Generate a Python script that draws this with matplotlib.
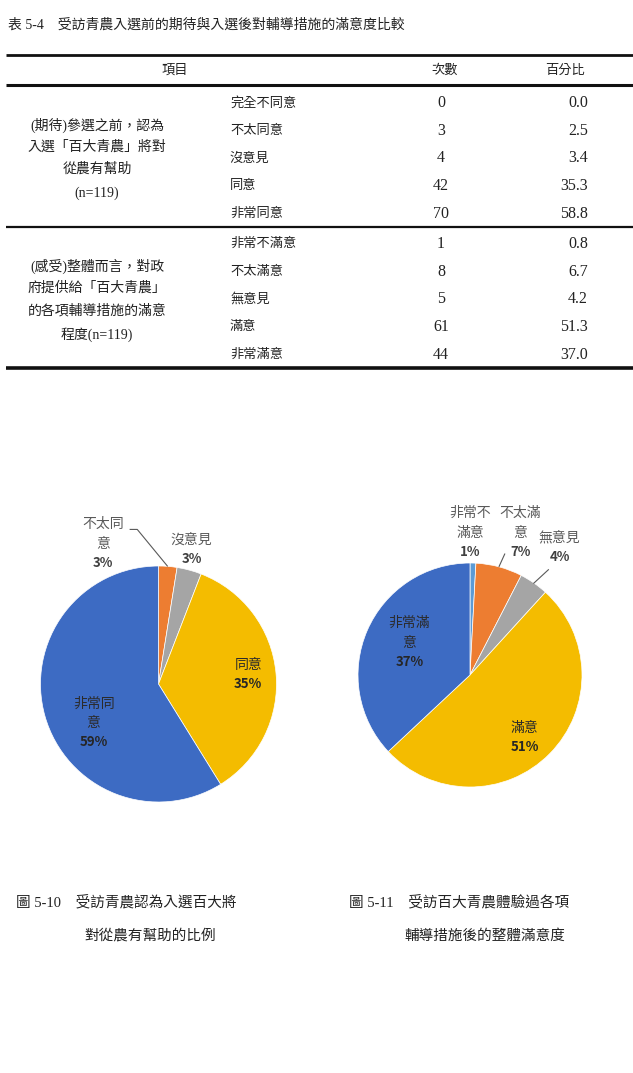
import matplotlib
matplotlib.use("Agg")
import matplotlib.pyplot as plt

# ---- data ----
q1_cats = ["完全不同意", "不太同意", "沒意見", "同意", "非常同意"]
q1_counts = [0, 3, 4, 42, 70]
q1_pcts = [0.0, 2.5, 3.4, 35.3, 58.8]
q2_cats = ["非常不滿意", "不太滿意", "無意見", "滿意", "非常滿意"]
q2_counts = [1, 8, 5, 61, 44]
q2_pcts = [0.8, 6.7, 4.2, 51.3, 37.0]

pie1_labels = ["", "不太同\n意", "沒意見", "同意", "非常同\n意"]
pie2_labels = ["非常不\n滿意", "不太滿\n意", "無意見", "滿意", "非常滿\n意"]

title = "表 5-4　受訪青農入選前的期待與入選後對輔導措施的滿意度比較"
headers = ["項目", "次數", "百分比"]
group1 = ["(期待)參選之前，認為", "入選「百大青農」將對", "從農有幫助", "(n=119)"]
group2 = ["(感受)整體而言，對政", "府提供給「百大青農」", "的各項輔導措施的滿意", "程度(n=119)"]
cap1 = ["圖 5-10　受訪青農認為入選百大將", "對從農有幫助的比例"]
cap2 = ["圖 5-11　受訪百大青農體驗過各項", "輔導措施後的整體滿意度"]

colors = ["#5B9BD5", "#ED7D31", "#A5A5A5", "#F4BC00", "#3D6BC3"]

W, H = 633, 1073
serif_cjk = ["Liberation Serif", "Noto Sans CJK TC"]
sans_cjk = ["Noto Sans CJK TC", "DejaVu Sans"]
ink = "#222222"

fig = plt.figure(figsize=(W / 100, H / 100), dpi=100)
base = fig.add_axes([0, 0, 1, 1])
base.set_xlim(0, W)
base.set_ylim(H, 0)
base.axis("off")
base.set_zorder(10)  # text above the pie axes

# ---- table ----
base.text(8, 25, title, family=serif_cjk, fontsize=10, color=ink, va="center")
for y, lw in [(55, 2.0), (85, 2.2), (227, 1.6), (368, 2.6)]:
    base.plot([6, W], [y, y], color="#111111", lw=lw, solid_capstyle="butt")

base.text(175, 71, headers[0], family=serif_cjk, fontsize=9.5, color=ink, ha="center", va="center")
base.text(445, 71, headers[1], family=serif_cjk, fontsize=9.5, color=ink, ha="center", va="center")
base.text(565, 71, headers[2], family=serif_cjk, fontsize=9.5, color=ink, ha="center", va="center")

def table_block(y0, cats, counts, pcts, group):
    step = 27.7
    for i, (c, n, p) in enumerate(zip(cats, counts, pcts)):
        y = y0 + i * step
        base.text(230, y, c, family=serif_cjk, fontsize=9.5, color=ink, va="center")
        base.text(441, y, str(n), family=serif_cjk, fontsize=11.5, color=ink, ha="center", va="center")
        base.text(588, y, f"{p:.1f}", family=serif_cjk, fontsize=11.5, color=ink, ha="right", va="center")
    gy = y0 + 2 * step
    ys = [gy - 33, gy - 11, gy + 11, gy + 35]
    for line, y in zip(group, ys):
        base.text(97, y, line, family=serif_cjk, fontsize=10, color=ink, ha="center", va="center")

table_block(103, q1_cats, q1_counts, q1_pcts, group1)
table_block(244, q2_cats, q2_counts, q2_pcts, group2)


# ---- pies ----
def draw_pie(cx, cy, r, counts, labels, lab_pos, leaders):
    ax = fig.add_axes([(cx - r) / W, (H - cy - r) / H, 2 * r / W, 2 * r / H])
    ax.pie(counts, colors=colors, startangle=90, counterclock=False, radius=1,
           wedgeprops=dict(edgecolor="white", linewidth=0.5))
    ax.set_xlim(-1, 1)
    ax.set_ylim(-1, 1)
    ax.axis("off")
    total = sum(counts)
    for lab, n, pos in zip(labels, counts, lab_pos):
        if pos is None:
            continue
        px = cx + pos[0] * r
        py = cy - pos[1] * r
        inside = (pos[0] ** 2 + pos[1] ** 2) < 1
        c_lab = "#2B2B2B" if inside else "#595959"
        c_pct = "#262626" if inside else "#404040"
        nlines = lab.count("\n") + 1
        top = py - (nlines + 1) * 19.5 / 2
        for k, part in enumerate(lab.split("\n")):
            base.text(px, top + 9.75 + k * 19.5, part, family=sans_cjk, fontsize=10,
                      color=c_lab, ha="center", va="center")
        base.text(px, top + 9.75 + nlines * 19.5, f"{round(n / total * 100):.0f}%",
                  family=sans_cjk, fontsize=9.5, fontweight="bold", color=c_pct,
                  ha="center", va="center")
    for pts in leaders:
        xs = [cx + p[0] * r for p in pts]
        ys = [cy - p[1] * r for p in pts]
        base.plot(xs, ys, color="#595959", lw=0.8)

draw_pie(158.5, 684, 118, q1_counts, pie1_labels,
         [None, (-0.47, 1.19), (0.28, 1.14), (0.76, 0.08), (-0.55, -0.33)],
         [[(-0.24, 1.31), (-0.18, 1.31), (0.075, 1.0)]])
draw_pie(470, 675, 112, q2_counts, pie2_labels,
         [(0.0, 1.27), (0.45, 1.27), (0.80, 1.14), (0.49, -0.56), (-0.54, 0.29)],
         [[(0.31, 1.08), (0.26, 0.97)], [(0.70, 0.94), (0.57, 0.82)]])

# ---- captions ----
base.text(16, 902, cap1[0], family=serif_cjk, fontsize=10.5, color=ink, va="center")
base.text(150, 936, cap1[1], family=serif_cjk, fontsize=10.5, color=ink, ha="center", va="center")
base.text(349, 902, cap2[0], family=serif_cjk, fontsize=10.5, color=ink, va="center")
base.text(485, 936, cap2[1], family=serif_cjk, fontsize=10.5, color=ink, ha="center", va="center")

fig.savefig("out.png", dpi=100)
